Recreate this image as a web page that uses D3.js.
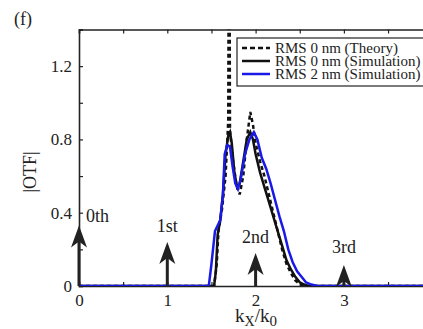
<!DOCTYPE html>
<html>
<head>
<meta charset="utf-8">
<script src="https://cdn.jsdelivr.net/npm/d3@7"></script>
<style>
  body { margin: 0; background: #fff; }
  text { font-family: "Liberation Serif", "DejaVu Serif", serif; fill: #222; }
</style>
</head>
<body>
<div id="chart"></div>
<script>
// values
const theoryX = [0, 1.53, 1.56, 1.58, 1.62, 1.66, 1.69, 1.697, 1.703, 1.71, 1.74, 1.78, 1.82, 1.86, 1.9, 1.94, 1.97, 2.0, 2.05, 2.1, 2.15, 2.2, 2.25, 2.3, 2.35, 2.4, 2.45, 2.5, 2.56, 4];
const theoryY = [0, 0, 0.12, 0.3, 0.42, 0.6, 0.9, 2, 2, 0.85, 0.7, 0.56, 0.5, 0.6, 0.8, 0.95, 0.88, 0.78, 0.68, 0.6, 0.5, 0.4, 0.3, 0.2, 0.12, 0.07, 0.03, 0.01, 0, 0];

const simX = [0, 1.53, 1.55, 1.57, 1.6, 1.63, 1.66, 1.69, 1.71, 1.73, 1.76, 1.79, 1.82, 1.86, 1.9, 1.94, 1.97, 2.0, 2.05, 2.1, 2.15, 2.2, 2.25, 2.3, 2.35, 2.4, 2.45, 2.5, 2.55, 2.6, 4];
const simY = [0, 0, 0.08, 0.28, 0.36, 0.5, 0.72, 0.82, 0.84, 0.78, 0.62, 0.54, 0.56, 0.68, 0.8, 0.84, 0.8, 0.72, 0.62, 0.54, 0.46, 0.38, 0.3, 0.22, 0.14, 0.09, 0.05, 0.02, 0.008, 0, 0];

const rmsX = [0, 1.47, 1.5, 1.54, 1.6, 1.63, 1.65, 1.68, 1.71, 1.74, 1.77, 1.8, 1.83, 1.88, 1.93, 1.98, 2.02, 2.07, 2.12, 2.17, 2.22, 2.27, 2.32, 2.37, 2.42, 2.47, 2.52, 2.57, 2.62, 2.7, 4];
const rmsY = [0, 0, 0.12, 0.3, 0.36, 0.5, 0.72, 0.77, 0.76, 0.65, 0.56, 0.53, 0.58, 0.72, 0.8, 0.84, 0.8, 0.7, 0.64, 0.56, 0.47, 0.38, 0.3, 0.2, 0.13, 0.08, 0.05, 0.02, 0.01, 0, 0];

const orderX = [0, 1, 2, 3];
const orderH = [0.33, 0.24, 0.18, 0.115];
const orderLabels = ['0th', '1st', '2nd', '3rd'];

const xTicks = [0, 0.5, 1, 1.5, 2, 2.5, 3, 3.5, 4];
const xTickLabels = ['0', '', '1', '', '2', '', '3', '', ''];
const yTicks = [0, 0.2, 0.4, 0.6, 0.8, 1.0, 1.2, 1.4];
const yTickLabels = ['0', '', '0.4', '', '0.8', '', '1.2', ''];

const legendNames = ['RMS 0 nm (Theory)', 'RMS 0 nm (Simulation)', 'RMS 2 nm (Simulation)'];

const width = 423, height = 329;
const margin = { left: 79, top: 29.5, bottom: 43 };
const x = d3.scaleLinear().domain([0, 4]).range([margin.left, margin.left + 4 * 88.3]);
const y = d3.scaleLinear().domain([0, 1.4]).range([height - margin.bottom, margin.top]);

const svg = d3.select('#chart').append('svg')
  .attr('width', width).attr('height', height);
svg.append('rect').attr('width', width).attr('height', height).attr('fill', '#fff');

svg.append('defs').append('clipPath').attr('id', 'plotclip')
  .append('rect')
  .attr('x', x(0)).attr('y', y(1.4))
  .attr('width', x(4) - x(0)).attr('height', y(0) - y(1.4));

// axes (MATLAB style, ticks inward)
const axBottom = svg.append('g').attr('transform', `translate(0,${y(0)})`)
  .call(d3.axisBottom(x).tickValues(xTicks).tickSize(-4).tickPadding(8)
    .tickFormat((d, i) => xTickLabels[i]));
const axTop = svg.append('g').attr('transform', `translate(0,${y(1.4)})`)
  .call(d3.axisTop(x).tickValues(xTicks).tickSize(-4).tickFormat(''));
const axLeft = svg.append('g').attr('transform', `translate(${x(0)},0)`)
  .call(d3.axisLeft(y).tickValues(yTicks).tickSize(-4).tickPadding(7)
    .tickFormat((d, i) => yTickLabels[i]));
[axBottom, axTop, axLeft].forEach(g => {
  g.select('.domain').attr('stroke', '#222').attr('stroke-width', 1.6);
  g.selectAll('.tick line').attr('stroke', '#222').attr('stroke-width', 1.2);
  g.selectAll('.tick text').style('font-family', '"Liberation Serif", serif')
    .style('font-size', '17px').attr('fill', '#333');
});

const plot = svg.append('g').attr('clip-path', 'url(#plotclip)');

const line = d3.line().x(d => x(d[0])).y(d => y(d[1]));
plot.append('path').datum(d3.zip(theoryX, theoryY))
  .attr('d', line).attr('fill', 'none')
  .attr('stroke', '#111').attr('stroke-width', 2.5).attr('stroke-dasharray', '4,3');
plot.append('path').datum(d3.zip(simX, simY))
  .attr('d', line).attr('fill', 'none')
  .attr('stroke', '#111').attr('stroke-width', 2.5);
plot.append('path').datum(d3.zip(rmsX, rmsY))
  .attr('d', line).attr('fill', 'none')
  .attr('stroke', '#1a1ae6').attr('stroke-width', 2.5);

// delta orders
const headPath = (cx, cy) => `M${cx},${cy} L${cx + 8},${cy + 22} L${cx},${cy + 16} L${cx - 8},${cy + 22} Z`;
orderX.forEach((k, i) => {
  svg.append('line')
    .attr('x1', x(k)).attr('x2', x(k))
    .attr('y1', y(0)).attr('y2', y(orderH[i]) + 10)
    .attr('stroke', '#222').attr('stroke-width', 3);
  svg.append('path').attr('d', headPath(x(k), y(orderH[i]))).attr('fill', '#222');
});

// order labels
const labelPos = [[x(0) + 7, y(orderH[0]) - 4, 'start'], [x(1), y(orderH[1]) - 10, 'middle'],
  [x(2), y(orderH[2]) - 10, 'middle'], [x(3), y(orderH[3]) - 12, 'middle']];
orderLabels.forEach((t, i) => {
  svg.append('text').attr('x', labelPos[i][0]).attr('y', labelPos[i][1])
    .attr('text-anchor', labelPos[i][2]).style('font-size', '18px').text(t);
});

// legend
const lg = svg.append('g').attr('transform', 'translate(237,38)');
lg.append('rect').attr('width', 200).attr('height', 48)
  .attr('fill', '#fff').attr('stroke', '#222').attr('stroke-width', 1.2);
const legendStyles = [
  { stroke: '#111', dash: '5,3' },
  { stroke: '#111', dash: null },
  { stroke: '#1a1ae6', dash: null }
];
legendNames.forEach((n, i) => {
  const cy = 10 + i * 13;
  lg.append('line').attr('x1', 5).attr('x2', 33).attr('y1', cy).attr('y2', cy)
    .attr('stroke', legendStyles[i].stroke).attr('stroke-width', 2.5)
    .attr('stroke-dasharray', legendStyles[i].dash);
  lg.append('text').attr('x', 38).attr('y', cy + 5).style('font-size', '15px').text(n);
});

// titles
svg.append('text').attr('x', 14).attr('y', 25).style('font-size', '18px').text('(f)');
svg.append('text').attr('transform', 'translate(36,172) rotate(-90)')
  .attr('text-anchor', 'middle').style('font-size', '18px').text('|OTF|');
const xl = svg.append('text').attr('x', 256).attr('y', 322)
  .attr('text-anchor', 'middle').style('font-size', '19px');
xl.append('tspan').text('k');
xl.append('tspan').attr('dy', 4).style('font-size', '14px').text('X');
xl.append('tspan').attr('dy', -4).text('/k');
xl.append('tspan').attr('dy', 4).style('font-size', '15px').text('0');
</script>
</body>
</html>
